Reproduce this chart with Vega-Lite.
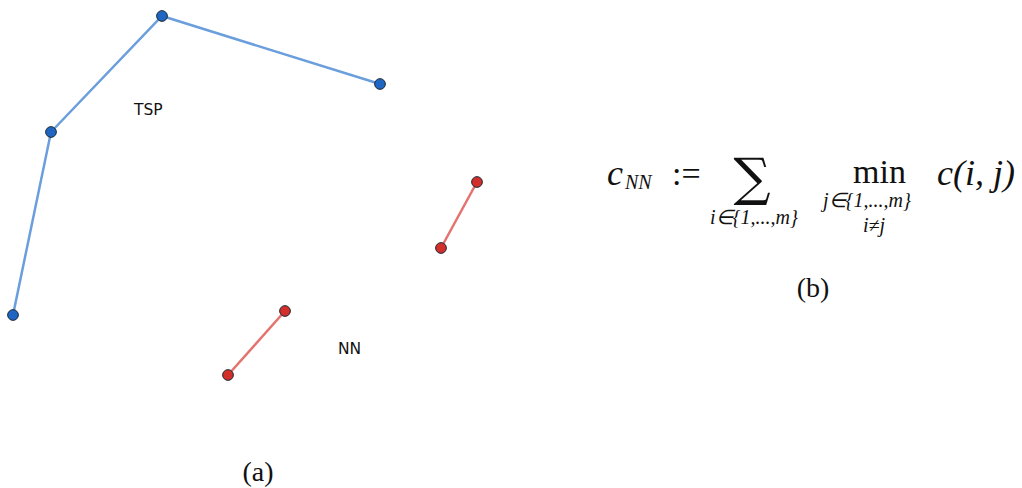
{
  "$schema": "https://vega.github.io/schema/vega-lite/v6.json",
  "width": 1022,
  "height": 488,
  "autosize": {"type": "fit", "contains": "padding"},
  "padding": 0,
  "background": "white",
  "config": {"view": {"stroke": null}},
  "datasets": {
    "pts": [
      {"group": "TSP", "seg": "t", "order": 1, "x": 13, "y": 315},
      {"group": "TSP", "seg": "t", "order": 2, "x": 51, "y": 132},
      {"group": "TSP", "seg": "t", "order": 3, "x": 162, "y": 16},
      {"group": "TSP", "seg": "t", "order": 4, "x": 380, "y": 84},
      {"group": "NN", "seg": "n1", "order": 1, "x": 441, "y": 248},
      {"group": "NN", "seg": "n1", "order": 2, "x": 477, "y": 182},
      {"group": "NN", "seg": "n2", "order": 1, "x": 228, "y": 375},
      {"group": "NN", "seg": "n2", "order": 2, "x": 285, "y": 311}
    ],
    "labels": [
      {"label": "TSP", "x": 134, "y": 115},
      {"label": "NN", "x": 338, "y": 354}
    ],
    "captions": [
      {"label": "(a)", "x": 258, "y": 481},
      {"label": "(b)", "x": 813, "y": 297}
    ],
    "mathBigItalic": [
      {"label": "c", "x": 607, "y": 185},
      {"label": "c(i, j)", "x": 937, "y": 185}
    ],
    "mathBigRoman": [
      {"label": ":=", "x": 672, "y": 185},
      {"label": "min", "x": 853, "y": 183}
    ],
    "mathSmall": [
      {"label": "NN", "x": 625, "y": 189},
      {"label": "i∈{1,...,m}", "x": 710, "y": 224},
      {"label": "j∈{1,...,m}", "x": 823, "y": 207},
      {"label": "i≠j", "x": 863, "y": 232}
    ],
    "sum": [
      {"label": "∑", "x": 752, "y": 195}
    ]
  },
  "encoding": {
    "x": {"field": "x", "type": "quantitative", "scale": {"domain": [0, 1022], "nice": false, "zero": false}, "axis": null},
    "y": {"field": "y", "type": "quantitative", "scale": {"domain": [0, 488], "reverse": true, "nice": false, "zero": false}, "axis": null}
  },
  "layer": [
    {
      "data": {"name": "pts"},
      "mark": {"type": "line", "strokeWidth": 2.5},
      "encoding": {
        "detail": {"field": "seg"},
        "order": {"field": "order", "type": "quantitative"},
        "color": {"field": "group", "type": "nominal", "scale": {"domain": ["TSP", "NN"], "range": ["#6a9edc", "#e4736f"]}, "legend": null}
      }
    },
    {
      "data": {"name": "pts"},
      "mark": {"type": "point", "filled": true, "size": 115, "opacity": 1, "stroke": "#1b2733", "strokeWidth": 1},
      "encoding": {
        "fill": {"field": "group", "type": "nominal", "scale": {"domain": ["TSP", "NN"], "range": ["#1f66c2", "#d22f2b"]}, "legend": null}
      }
    },
    {
      "data": {"name": "labels"},
      "mark": {"type": "text", "font": "DejaVu Sans", "fontSize": 15.5, "align": "left", "baseline": "alphabetic", "color": "#111"},
      "encoding": {"text": {"field": "label"}}
    },
    {
      "data": {"name": "captions"},
      "mark": {"type": "text", "font": "Liberation Serif", "fontSize": 28, "align": "center", "baseline": "alphabetic", "color": "#111"},
      "encoding": {"text": {"field": "label"}}
    },
    {
      "data": {"name": "mathBigItalic"},
      "mark": {"type": "text", "font": "Liberation Serif", "fontSize": 36, "fontStyle": "italic", "align": "left", "baseline": "alphabetic", "color": "#111"},
      "encoding": {"text": {"field": "label"}}
    },
    {
      "data": {"name": "mathBigRoman"},
      "mark": {"type": "text", "font": "Liberation Serif", "fontSize": 34, "align": "left", "baseline": "alphabetic", "color": "#111"},
      "encoding": {"text": {"field": "label"}}
    },
    {
      "data": {"name": "mathSmall"},
      "mark": {"type": "text", "font": "Liberation Serif", "fontSize": 20, "fontStyle": "italic", "align": "left", "baseline": "alphabetic", "color": "#111"},
      "encoding": {"text": {"field": "label"}}
    },
    {
      "data": {"name": "sum"},
      "mark": {"type": "text", "font": "DejaVu Serif", "fontSize": 52, "align": "center", "baseline": "alphabetic", "color": "#111"},
      "encoding": {"text": {"field": "label"}}
    }
  ]
}
